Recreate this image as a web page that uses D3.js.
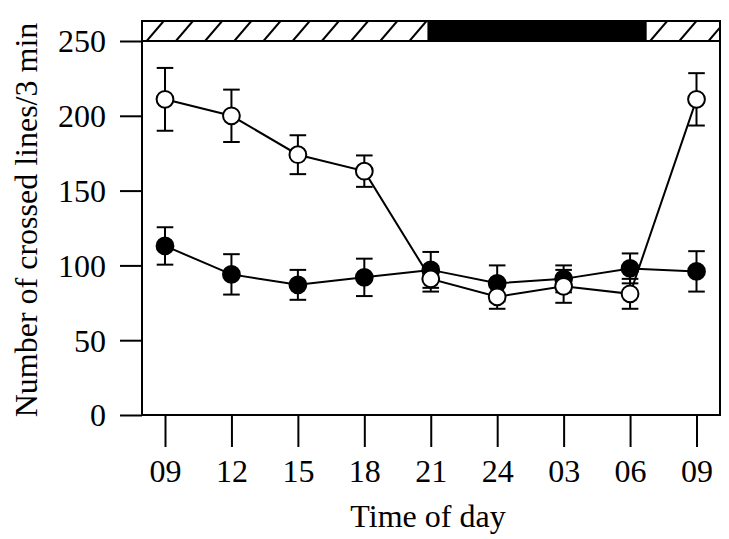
<!DOCTYPE html>
<html>
<head>
<meta charset="utf-8">
<script src="https://cdn.jsdelivr.net/npm/d3@7"></script>
<style>
  html, body { margin: 0; padding: 0; background: #fff; }
  svg { display: block; }
  text { font-family: "Liberation Serif", "Times New Roman", serif; fill: #000; }
</style>
</head>
<body>
<svg id="chart" width="729" height="539"></svg>
<script>
// ---- data ----
const timeLabels = ["09", "12", "15", "18", "21", "24", "03", "06", "09"];
const openMean = [211, 200, 174, 163, 91, 79, 86, 81, 211];
const openSem = [21, 17.5, 13, 10.5, 8.5, 8, 11, 10, 17.5];
const filledMean = [113, 94, 87, 92, 97, 88, 91, 98, 96];
const filledSem = [12.5, 13.5, 10, 12.5, 12, 12, 9, 10, 13.5];
const yTicks = [0, 50, 100, 150, 200, 250];
// dark phase (in time-index units)
const darkStart = 3.95, darkEnd = 7.25;

const svg = d3.select("#chart");
const L = 142, R = 720, T = 21, B = 415, bandB = 41;

const x = d3.scaleLinear().domain([0, 8]).range([165, 696.5]);
const y = d3.scaleLinear().domain([0, 250]).range([B, bandB]);

// ---- light/dark band ----
const band = svg.append("g");
const clip = svg.append("defs").append("clipPath").attr("id", "hclip");
clip.append("rect").attr("x", L).attr("y", T).attr("width", x(darkStart) - L).attr("height", bandB - T);
clip.append("rect").attr("x", x(darkEnd)).attr("y", T).attr("width", R - x(darkEnd)).attr("height", bandB - T);

const hatch = band.append("g").attr("clip-path", "url(#hclip)");
function hatchSeg(x0, x1, off) {
  for (let xb = x0 + off; xb < x1 + 20; xb += 29.2) {
    hatch.append("line")
      .attr("x1", xb).attr("y1", bandB)
      .attr("x2", xb + 17).attr("y2", T)
      .attr("stroke", "#000").attr("stroke-width", 2);
  }
}
hatchSeg(L, x(darkStart), 4.7);
hatchSeg(x(darkEnd), R, 3.5);

band.append("rect")
  .attr("x", x(darkStart)).attr("y", T)
  .attr("width", x(darkEnd) - x(darkStart)).attr("height", bandB - T)
  .attr("fill", "#000");

// ---- frame ----
svg.append("rect").attr("x", L).attr("y", T).attr("width", R - L).attr("height", B - T)
  .attr("fill", "none").attr("stroke", "#000").attr("stroke-width", 2);
svg.append("line").attr("x1", L).attr("x2", R).attr("y1", bandB).attr("y2", bandB)
  .attr("stroke", "#000").attr("stroke-width", 2);

// ---- axes ----
const yAxis = d3.axisLeft(y).tickValues(yTicks).tickSize(22).tickPadding(14);
const gy = svg.append("g").attr("transform", `translate(${L},0)`).call(yAxis);
gy.select(".domain").remove();
gy.selectAll(".tick line").attr("stroke", "#000").attr("stroke-width", 2);
gy.selectAll(".tick text").attr("font-size", 32).attr("font-family", "Liberation Serif").attr("dy", "0.34em");

const xAxis = d3.axisBottom(x).tickValues(d3.range(timeLabels.length))
  .tickFormat(i => timeLabels[i]).tickSize(32);
const gx = svg.append("g").attr("transform", `translate(0,${B})`).call(xAxis);
gx.select(".domain").remove();
gx.selectAll(".tick line").attr("stroke", "#000").attr("stroke-width", 2);
gx.selectAll(".tick text").attr("font-size", 32).attr("font-family", "Liberation Serif")
  .attr("y", 67).attr("dy", 0);

// ---- titles ----
svg.append("text").attr("x", 428).attr("y", 527).attr("text-anchor", "middle")
  .attr("font-size", 32).text("Time of day");
svg.append("text").attr("transform", "translate(37,220) rotate(-90)").attr("text-anchor", "middle")
  .attr("font-size", 32).text("Number of crossed lines/3 min");

// ---- series ----
function drawSeries(mean, sem, fill) {
  const g = svg.append("g");
  const pts = mean.map((m, i) => ({ i, m, s: sem[i] }));
  g.append("path").datum(pts)
    .attr("d", d3.line().x(d => x(d.i)).y(d => y(d.m)))
    .attr("fill", "none").attr("stroke", "#000").attr("stroke-width", 2);
  const eb = g.selectAll("g.eb").data(pts).join("g");
  eb.append("line").attr("x1", d => x(d.i)).attr("x2", d => x(d.i))
    .attr("y1", d => y(d.m + d.s)).attr("y2", d => y(d.m - d.s))
    .attr("stroke", "#000").attr("stroke-width", 2);
  [1, -1].forEach(sg => {
    eb.append("line").attr("x1", d => x(d.i) - 8.3).attr("x2", d => x(d.i) + 8.3)
      .attr("y1", d => y(d.m + sg * d.s)).attr("y2", d => y(d.m + sg * d.s))
      .attr("stroke", "#000").attr("stroke-width", 2);
  });
  g.selectAll("circle").data(pts).join("circle")
    .attr("cx", d => x(d.i)).attr("cy", d => y(d.m)).attr("r", 8.4)
    .attr("fill", fill).attr("stroke", "#000").attr("stroke-width", 2);
}
drawSeries(filledMean, filledSem, "#000");
drawSeries(openMean, openSem, "#fff");
</script>
</body>
</html>
